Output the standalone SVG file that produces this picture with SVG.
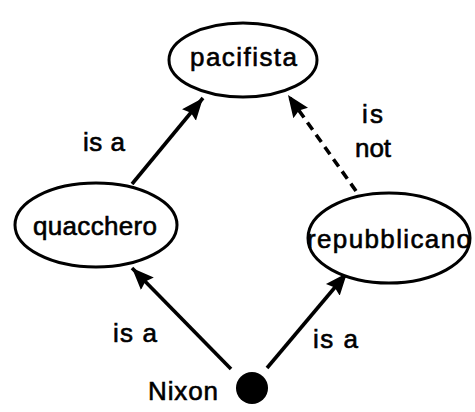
<svg xmlns="http://www.w3.org/2000/svg" width="475" height="412" viewBox="0 0 475 412">
  <style>
    .node { fill: #ffffff; stroke: #000000; stroke-width: 3; }
    .lbl { font-family: "Liberation Sans", Arial, Helvetica, sans-serif; font-size: 26px; fill: #000000; stroke: #000000; stroke-width: 0.6; }
    .edge { stroke: #000000; stroke-width: 3.6; fill: none; }
    .dash { stroke-dasharray: 9 6; }
  </style>
  <defs>
    <marker id="head" markerUnits="userSpaceOnUse" markerWidth="24" markerHeight="20" refX="22" refY="10" orient="auto">
      <path d="M0,1 L22,10 L0,19 L3,10 z" fill="#000000"/>
    </marker>
  </defs>
  <rect width="475" height="412" fill="#ffffff"/>

  <g id="connectors">
    <line class="edge" x1="132" y1="184" x2="203" y2="98" marker-end="url(#head)"/>
    <line class="edge dash" x1="356" y1="191" x2="288" y2="95" marker-end="url(#head)"/>
    <line class="edge" x1="231" y1="369" x2="132" y2="268" marker-end="url(#head)"/>
    <line class="edge" x1="267" y1="368" x2="347" y2="273" marker-end="url(#head)"/>
    <text class="lbl" x="83" y="151" textLength="42" lengthAdjust="spacing">is a</text>
    <text class="lbl" x="362" y="123" textLength="21" lengthAdjust="spacing">is</text>
    <text class="lbl" x="355" y="157" textLength="36" lengthAdjust="spacing">not</text>
    <text class="lbl" x="113" y="342" textLength="44" lengthAdjust="spacing">is a</text>
    <text class="lbl" x="313" y="348" textLength="45" lengthAdjust="spacing">is a</text>
  </g>

  <g id="pacifista">
    <ellipse class="node" cx="243" cy="60" rx="74" ry="37"/>
    <text class="lbl" x="190" y="66" textLength="107" lengthAdjust="spacing">pacifista</text>
  </g>

  <g id="quacchero">
    <ellipse class="node" cx="96" cy="225" rx="81" ry="42"/>
    <text class="lbl" x="33" y="235" textLength="124" lengthAdjust="spacing">quacchero</text>
  </g>

  <g id="repubblicano">
    <ellipse class="node" cx="389" cy="238" rx="81" ry="45"/>
    <text class="lbl" x="307" y="248" textLength="164" lengthAdjust="spacing">repubblicano</text>
  </g>

  <g id="nixon">
    <circle cx="252" cy="388" r="16" fill="#000000"/>
    <text class="lbl" x="148" y="400" textLength="70" lengthAdjust="spacing">Nixon</text>
  </g>
</svg>
